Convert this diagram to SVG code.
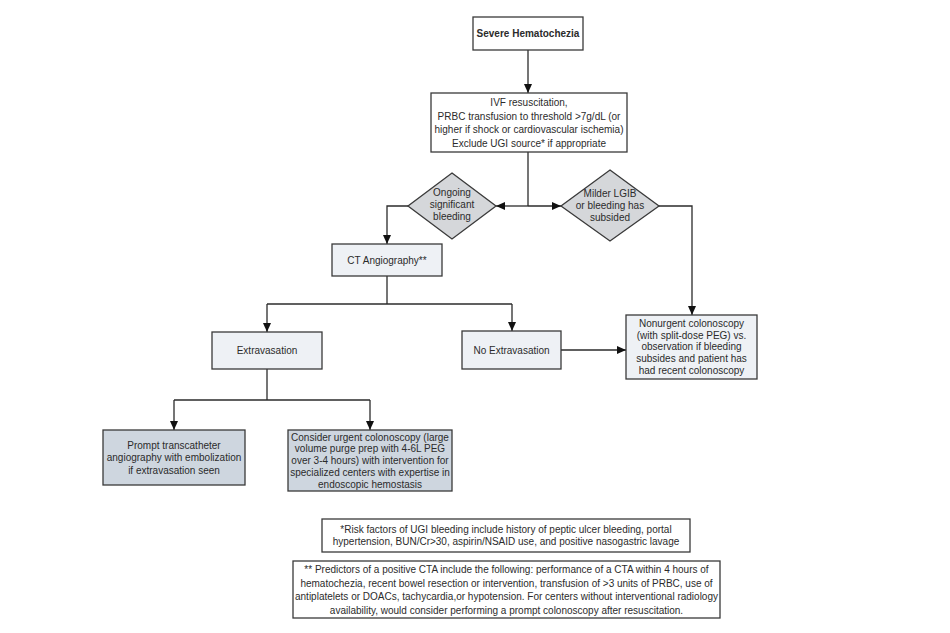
<svg xmlns="http://www.w3.org/2000/svg" width="950" height="633" viewBox="0 0 950 633">
<defs>
<style>
text{font-family:"Liberation Sans",Arial,sans-serif;font-size:10px;fill:#2b2b2b;text-anchor:middle}
.b{font-weight:bold}
.w{fill:#ffffff;stroke:#3a3a3a;stroke-width:1.3}
.l{fill:#eef1f5;stroke:#3a3a3a;stroke-width:1.3}
.d{fill:#ced6df;stroke:#3a3a3a;stroke-width:1.3}
.g{fill:#d5d7da;stroke:#3a3a3a;stroke-width:1.3}
.c{fill:none;stroke:#2b2b2b;stroke-width:1.3}
</style>
<marker id="ah" markerUnits="userSpaceOnUse" markerWidth="9" markerHeight="8" refX="9" refY="4" orient="auto">
<path d="M0,0 L9,4 L0,8 z" fill="#111"/>
</marker>
</defs>
<rect width="950" height="633" fill="#ffffff"/>
<g id="connectors">
<path class="c" d="M528,50 V93" marker-end="url(#ah)"/>
<path class="c" d="M528,152 V206"/>
<path class="c" d="M528,206 H496" marker-end="url(#ah)"/>
<path class="c" d="M528,206 H561" marker-end="url(#ah)"/>
<path class="c" d="M408,206 H387 V244" marker-end="url(#ah)"/>
<path class="c" d="M659,206 H692 V315" marker-end="url(#ah)"/>
<path class="c" d="M387,276 V304"/>
<path class="c" d="M267,304 H512"/>
<path class="c" d="M267,304 V332" marker-end="url(#ah)"/>
<path class="c" d="M512,304 V331" marker-end="url(#ah)"/>
<path class="c" d="M561,350 H626" marker-end="url(#ah)"/>
<path class="c" d="M267,369 V400"/>
<path class="c" d="M174,400 H370"/>
<path class="c" d="M174,400 V430" marker-end="url(#ah)"/>
<path class="c" d="M370,400 V430" marker-end="url(#ah)"/>
</g>
<g id="severe">
<rect class="w" x="473" y="17" width="110" height="33"/>
<text class="b" x="528" y="37">Severe Hematochezia</text>
</g>
<g id="ivf">
<rect class="w" x="431" y="93" width="196" height="59"/>
<text x="529" y="106">IVF resuscitation,</text>
<text x="529" y="119.5">PRBC transfusion to threshold &gt;7g/dL (or</text>
<text x="529" y="133">higher if shock or cardiovascular ischemia)</text>
<text x="529" y="146.5">Exclude UGI source* if appropriate</text>
</g>
<g id="ongoing">
<polygon class="g" points="452,173 496,206 452,239 408,206"/>
<text x="452" y="195.5">Ongoing</text>
<text x="452" y="207.5">significant</text>
<text x="452" y="219.5">bleeding</text>
</g>
<g id="milder">
<polygon class="g" points="610,170 659,206 610,241 561,206"/>
<text x="610" y="196.5">Milder LGIB</text>
<text x="610" y="208.5">or bleeding has</text>
<text x="610" y="220.5">subsided</text>
</g>
<g id="cta">
<rect class="l" x="332" y="244" width="110" height="32"/>
<text x="387" y="263.5">CT Angiography**</text>
</g>
<g id="extravasation">
<rect class="l" x="212" y="332" width="110" height="37"/>
<text x="267" y="354">Extravasation</text>
</g>
<g id="noextravasation">
<rect class="l" x="462" y="331" width="99" height="38"/>
<text x="511.5" y="353.5">No Extravasation</text>
</g>
<g id="nonurgent">
<rect class="l" x="626" y="315" width="131" height="64"/>
<text x="691.5" y="327">Nonurgent colonoscopy</text>
<text x="691.5" y="338.7">(with split-dose PEG) vs.</text>
<text x="691.5" y="350.4">observation if bleeding</text>
<text x="691.5" y="362.1">subsides and patient has</text>
<text x="691.5" y="373.8">had recent colonoscopy</text>
</g>
<g id="prompt">
<rect class="d" x="103" y="430" width="142" height="55"/>
<text x="174" y="448.5">Prompt transcatheter</text>
<text x="174" y="461">angiography with embolization</text>
<text x="174" y="473.5">if extravasation seen</text>
</g>
<g id="consider">
<rect class="d" x="288" y="430" width="164" height="61"/>
<text x="370" y="440.5">Consider urgent colonoscopy (large</text>
<text x="370" y="452.3">volume purge prep with 4-6L PEG</text>
<text x="370" y="464">over 3-4 hours) with intervention for</text>
<text x="370" y="475.8">specialized centers with expertise in</text>
<text x="370" y="487.5">endoscopic hemostasis</text>
</g>
<g id="footnote1">
<rect class="w" x="322" y="519" width="368" height="33"/>
<text x="506" y="532.5">*Risk factors of UGI bleeding include history of peptic ulcer bleeding, portal</text>
<text x="506" y="545">hypertension, BUN/Cr&gt;30, aspirin/NSAID use, and positive nasogastric lavage</text>
</g>
<g id="footnote2">
<rect class="w" x="293" y="561" width="427" height="57"/>
<text x="506.5" y="573">** Predictors of a positive CTA include the following: performance of a CTA within 4 hours of</text>
<text x="506.5" y="586.5">hematochezia, recent bowel resection or intervention, transfusion of &gt;3 units of PRBC, use of</text>
<text x="506.5" y="600">antiplatelets or DOACs, tachycardia,or hypotension. For centers without interventional radiology</text>
<text x="506.5" y="613.5">availability, would consider performing a prompt colonoscopy after resuscitation.</text>
</g>
</svg>
